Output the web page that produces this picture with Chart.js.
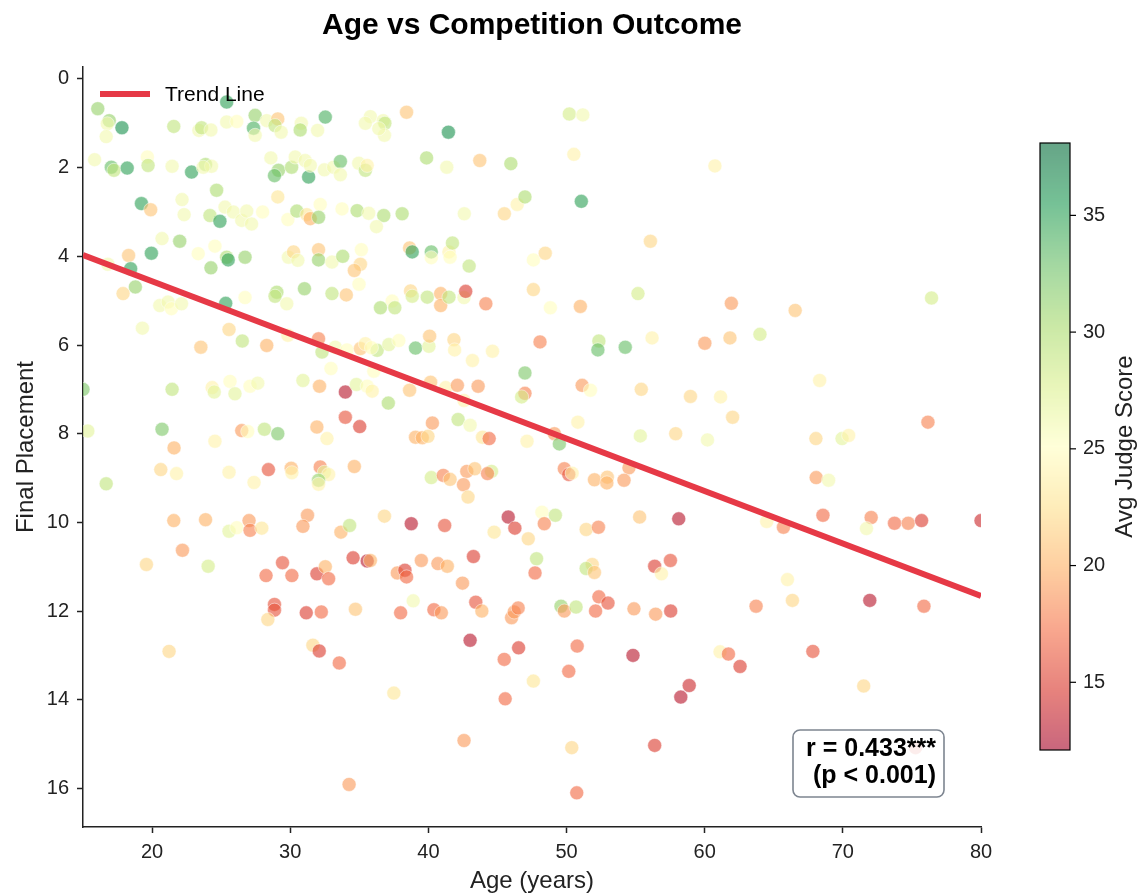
<!DOCTYPE html>
<html>
<head>
<meta charset="utf-8">
<script src="https://cdn.jsdelivr.net/npm/chart.js@4"></script>
<style>
  html, body { margin: 0; padding: 0; background: #fff; }
</style>
</head>
<body>
<canvas id="mycanvas" width="1138" height="896"></canvas>
<script>
// age of each competitor (years)
var ages = [
  16.07,25.4,16.9,16.76,17.82,16.68,21.57,23.39,23.58,24.26,25.4,26.13,27.46,27.34,27.46,28.3,29.1,28.9,29.34,30.8,
  30.72,15.84,17.05,17.24,18.2,19.66,19.71,21.45,22.86,23.87,24.3,23.7,28.6,29.15,28.86,30.1,30.36,31.08,31.33,24.67,
  22.17,22.32,19.23,19.9,24.19,24.91,25.28,25.88,26.49,26.85,27.2,28.0,29.1,29.83,30.48,31.2,20.72,22.0,19.95,18.3,
  16.8,18.45,23.34,24.55,25.4,25.51,24.26,26.73,29.87,30.24,30.55,31.03,18.79,17.9,20.56,21.16,21.4,22.13,25.33,26.73,
  29.03,28.9,29.75,
  32.54,31.98,35.8,35.44,36.73,36.85,36.82,36.41,38.42,41.45,39.87,41.33,43.72,45.97,31.45,32.47,33.14,33.63,33.63,34.96,
  35.44,35.57,32.17,31.45,32.05,33.75,34.84,35.68,36.77,36.24,38.1,42.6,45.5,46.43,46.99,32.05,32.05,33.02,33.8,35.15,
  35.08,34.64,34.98,33.02,34.06,38.64,38.83,40.21,40.21,41.49,41.57,41.74,42.95,47.6,47.6,37.38,36.53,37.57,38.71,38.83,
  39.92,40.89,40.89,41.49,42.58,42.7,44.16,
  50.2,51.18,50.53,60.74,51.07,56.07,48.46,48.83,51.0,55.17,61.93,
  66.55,76.42,
  19.3,25.57,26.53,23.53,28.3,29.83,30.92,15.0,21.45,24.35,24.5,25.64,26.0,27.09,27.65,15.35,20.72,21.59,24.55,26.49,
  26.92,28.13,29.1,20.63,21.77,25.57,27.38,28.42,30.07,30.12,16.68,21.57,23.87,25.57,26.13,27.02,27.09,27.94,31.25,30.92,
  22.2,19.59,24.06,29.44,
  32.05,32.3,33.26,34.11,35.08,35.44,36.29,35.88,37.14,37.86,39.07,40.04,40.09,41.85,41.9,43.19,44.64,32.95,32.12,33.99,
  34.79,35.57,35.93,36.05,37.1,38.64,40.16,41.25,42.1,43.6,42.58,46.99,46.99,46.75,33.99,35.03,31.93,32.66,40.29,42.15,
  43.02,39.07,39.56,39.97,43.92,44.4,47.14,34.64,32.17,32.47,32.78,32.05,32.05,40.21,41.08,41.57,42.78,43.36,42.54,42.87,
  44.57,44.28,33.67,34.3,36.82,38.76,41.18,44.76,45.78,46.26,47.23,34.55,35.57,35.8,39.49,40.69,41.37,43.26,
  48.08,52.34,52.27,54.25,56.19,60.01,61.83,64.0,51.13,51.73,55.41,58.97,61.15,62.02,50.82,49.12,49.48,55.34,57.9,60.2,
  54.52,49.84,50.16,50.4,52.02,52.95,52.92,54.16,48.22,49.19,48.39,51.42,52.31,55.29,58.12,47.83,51.86,57.52,
  68.32,76.16,68.05,69.94,70.42,68.07,68.97,64.49,65.7,68.56,72.05,71.71,73.74,74.73,75.7,80.0,
  28.25,30.12,28.86,28.86,28.38,31.16,21.23,
  31.93,32.54,32.78,37.75,38.3,38.42,42.47,32.25,34.72,37.99,38.9,40.4,40.94,43.43,43.87,46.02,46.21,46.5,31.64,32.1,
  33.55,43.02,46.53,45.49,37.5,45.56,42.58,34.26,
  47.72,51.42,52.02,56.38,56.87,52.34,53.0,52.1,49.6,49.84,50.69,54.88,56.45,57.54,63.72,50.77,50.16,47.6,54.81,61.11,
  61.72,62.56,58.88,58.27,50.38,56.38,50.74,
  65.99,66.35,71.95,75.87,67.83,71.51,75.26
];

// final placement (1 = best)
var placements = [
  0.67,0.52,0.94,1.01,1.10,1.30,1.07,1.16,1.10,1.15,0.97,0.96,0.82,1.11,1.27,0.94,0.90,1.05,1.20,1.0,
  1.15,1.82,1.99,2.06,2.01,1.76,1.95,1.97,2.10,1.93,1.97,1.99,1.78,2.06,2.18,1.99,1.76,1.84,2.21,2.51,
  2.72,3.06,2.81,2.95,3.08,3.21,2.89,3.0,3.19,2.98,3.27,3.0,2.66,3.17,2.98,3.06,3.6,3.66,3.93,3.98,
  4.18,4.28,3.94,3.77,4.02,4.08,4.26,4.02,4.02,3.9,4.09,4.73,4.69,4.84,5.11,5.03,5.18,5.07,5.06,4.93,
  4.81,4.9,5.07,
  0.86,1.16,0.85,1.0,0.94,1.0,1.27,1.12,0.75,1.2,1.78,1.99,1.84,1.91,1.95,2.05,1.99,1.86,2.16,1.9,
  2.06,1.95,2.83,3.15,3.12,2.93,2.97,3.03,3.08,3.33,3.04,3.04,3.04,2.83,2.66,3.85,4.08,4.13,4.0,3.85,
  4.18,4.32,4.63,4.84,4.87,3.81,3.9,3.9,4.03,3.9,4.02,3.7,4.22,4.08,4.75,5.01,5.16,5.16,4.78,4.9,
  4.92,4.84,5.11,4.92,4.93,4.79,5.07,
  0.79,0.81,1.70,1.96,2.76,3.66,3.93,5.16,5.13,4.84,5.06,
  5.22,4.94,
  5.62,5.65,5.91,6.05,6.01,5.78,6.8,7.0,7.0,6.96,7.06,6.82,7.1,6.93,6.86,7.94,7.90,8.32,8.17,7.93,
  7.95,7.9,8.0,8.81,8.9,8.87,9.1,8.81,8.78,8.88,9.13,9.96,9.94,10.2,10.12,9.96,10.18,10.13,9.84,10.09,
  10.63,10.95,10.99,10.91,
  5.86,6.16,6.05,6.11,6.08,5.97,6.12,6.06,5.99,5.9,6.07,6.03,5.8,5.88,6.11,6.35,6.14,6.53,6.93,7.06,
  6.89,6.93,7.04,6.59,7.31,7.02,6.84,6.96,6.91,6.93,7.25,6.63,7.09,7.17,7.63,7.84,7.85,8.11,7.76,7.68,
  7.81,8.08,8.09,8.06,8.08,8.11,8.17,8.74,8.75,8.87,8.92,9.05,9.14,8.99,8.94,9.03,8.85,8.79,9.15,9.43,
  8.85,8.9,10.22,10.07,9.86,10.03,10.07,10.22,9.88,10.13,10.37,10.8,10.87,10.86,10.86,10.93,10.99,10.77,
  5.93,5.91,6.11,6.05,5.84,5.96,5.84,5.76,6.91,7.02,7.0,7.16,7.17,7.63,7.74,8.0,8.23,8.05,8.0,8.14,
  8.77,8.79,8.92,8.89,9.04,8.98,9.11,9.05,9.77,9.84,10.03,10.16,10.11,9.88,9.92,10.82,10.95,10.86,
  6.8,7.74,8.11,8.11,8.04,8.99,9.05,9.98,10.11,9.84,9.89,10.14,10.02,10.02,9.96,9.96,
  11.2,11.2,11.85,11.98,12.19,12.04,12.91,
  11.16,11.0,11.27,11.14,11.08,11.23,11.37,12.02,11.96,12.04,11.77,11.97,12.04,11.8,12.0,12.15,12.02,11.93,12.77,12.9,
  13.17,12.66,12.83,13.09,13.85,13.98,14.92,15.91,
  11.14,11.04,11.13,10.99,11.16,11.68,11.82,12.0,11.89,12.0,11.91,11.95,12.07,12.0,11.89,12.79,13.36,13.58,13.0,12.92,
  12.97,13.25,13.68,13.94,15.08,15.03,16.1,
  11.29,11.76,11.76,11.89,12.91,13.69,15.08
];

// average judge score (colour)
var judgeScores = [
  31,35,31,26,36,26,29,26,29,26,26,25,31,34,26,26,21,29,26,26,
  30,26,33,29,35,25,29,26,35,30,26,26,26,31,33,30,26,26,35,30,
  26,26,35,21,29,35,26,26,26,26,26,25,23,25,30,23,26,31,35,21,
  26,35,25,25,30,35,31,31,26,22,26,31,31,22,26,26,25,26,35,25,
  30,29,26,
  34,26,26,26,26,29,26,26,21,36,30,26,21,30,26,26,26,33,26,26,
  29,24,25,20,31,25,30,26,30,26,30,26,22,24,30,21,31,26,30,25,
  22,21,25,29,21,21,35,33,25,24,25,29,29,25,22,25,30,29,22,28,
  29,20,20,29,26,15,18,
  28,26,24,24,35,22,22,25,20,28,19,
  21,28,
  26,22,29,21,20,24,27,32,29,24,27,25,27,25,26,27,32,20,24,19,
  25,29,32,22,24,24,24,16,20,24,29,20,20,27,25,19,18,23,19,19,
  19,22,28,16,
  18,29,26,25,21,24,29,25,27,25,33,27,21,22,24,24,24,25,20,13,
  27,25,24,25,30,21,21,24,19,19,24,32,18,28,16,15,20,24,19,29,
  26,20,20,22,23,17,24,20,18,27,24,31,24,28,18,21,19,21,19,22,
  28,18,20,29,22,13,16,23,13,15,22,15,13,20,19,19,20,15,
  18,29,33,33,24,19,21,28,19,25,22,22,24,22,24,19,32,27,22,26,
  19,18,16,24,20,21,20,19,25,29,18,22,18,21,13,29,22,16,
  24,18,22,27,24,19,26,24,18,17,18,26,17,18,15,14,
  17,17,16,16,22,15,22,
  15,20,17,19,15,17,19,17,21,17,26,17,19,16,20,19,19,18,22,15,
  17,13,15,17,23,17,19,19,
  17,29,21,15,24,17,16,17,31,19,29,19,19,15,18,17,17,23,13,24,
  17,15,14,13,22,15,17,
  24,22,13,17,16,22,15
];

var trendAges = [15, 80];
var trendPlacements = [3.97, 11.66];

var xTicks = [20, 30, 40, 50, 60, 70, 80];
var yTicks = [0, 2, 4, 6, 8, 10, 12, 14, 16];
var colorbarTicks = [15, 20, 25, 30, 35];
var scoreMin = 12.1, scoreMax = 38.1;
var statLines = ['r = 0.433***', '(p < 0.001)'];

var fontFam = '"Liberation Sans", Arial, Helvetica, sans-serif';

// RdYlGn colour map
var rdylgn = [[165,0,38],[215,48,39],[244,109,67],[253,174,97],[254,224,139],[255,255,191],
              [217,239,139],[166,217,106],[102,189,99],[26,152,80],[0,104,55]];
function scoreColor(v, a) {
  var t = (v - scoreMin) / (scoreMax - scoreMin);
  t = Math.max(0, Math.min(1, t)) * 10;
  var i = Math.min(9, Math.floor(t)), f = t - i;
  var c0 = rdylgn[i], c1 = rdylgn[i + 1];
  var r = Math.round(c0[0] + (c1[0] - c0[0]) * f);
  var g = Math.round(c0[1] + (c1[1] - c0[1]) * f);
  var b = Math.round(c0[2] + (c1[2] - c0[2]) * f);
  return 'rgba(' + r + ',' + g + ',' + b + ',' + a + ')';
}

var points = [];
var pointColors = [];
for (var i = 0; i < ages.length; i++) {
  points.push({x: ages[i], y: placements[i]});
  pointColors.push(scoreColor(judgeScores[i], 0.6));
}
var trendData = [];
for (var j = 0; j < trendAges.length; j++) {
  trendData.push({x: trendAges[j], y: trendPlacements[j]});
}

var bgPlugin = {
  id: 'bg',
  beforeDraw: function(chart) {
    var c = chart.ctx;
    c.save();
    c.fillStyle = '#fff';
    c.fillRect(0, 0, chart.width, chart.height);
    c.restore();
  }
};

var extrasPlugin = {
  id: 'extras',
  afterDraw: function(chart) {
    var c = chart.ctx;
    var area = chart.chartArea;
    c.save();

    // title
    c.fillStyle = '#000';
    c.font = 'bold 30px ' + fontFam;
    c.textAlign = 'center';
    c.textBaseline = 'middle';
    c.fillText('Age vs Competition Outcome', (area.left + area.right) / 2, 26);

    // legend in the upper left of the plot
    var trend = chart.data.datasets[0];
    c.strokeStyle = trend.borderColor;
    c.lineWidth = trend.borderWidth;
    c.beginPath();
    c.moveTo(100, 94);
    c.lineTo(150, 94);
    c.stroke();
    c.fillStyle = '#000';
    c.font = '21px ' + fontFam;
    c.textAlign = 'left';
    c.fillText(trend.label, 165, 95);

    // stats box
    var bx = 793, by = 730, bw = 151, bh = 67, rad = 7;
    c.beginPath();
    c.moveTo(bx + rad, by);
    c.arcTo(bx + bw, by, bx + bw, by + bh, rad);
    c.arcTo(bx + bw, by + bh, bx, by + bh, rad);
    c.arcTo(bx, by + bh, bx, by, rad);
    c.arcTo(bx, by, bx + bw, by, rad);
    c.closePath();
    c.fillStyle = 'rgba(255,255,255,0.85)';
    c.fill();
    c.strokeStyle = '#7d8590';
    c.lineWidth = 1.6;
    c.stroke();
    c.fillStyle = '#000';
    c.font = 'bold 25px ' + fontFam;
    c.textAlign = 'right';
    c.fillText(statLines[0], 936, 749);
    c.fillText(statLines[1], 936, 776);

    // colour bar
    var cb = {left: 1040, right: 1070, top: 143, bottom: 750};
    for (var py = cb.top; py < cb.bottom; py++) {
      var v = scoreMax - (py + 0.5 - cb.top) / (cb.bottom - cb.top) * (scoreMax - scoreMin);
      c.fillStyle = scoreColor(v, 0.6);
      c.fillRect(cb.left, py, cb.right - cb.left, 1);
    }
    c.strokeStyle = '#000';
    c.lineWidth = 1.2;
    c.strokeRect(cb.left, cb.top, cb.right - cb.left, cb.bottom - cb.top);
    c.font = '20px ' + fontFam;
    c.textAlign = 'left';
    c.textBaseline = 'middle';
    c.fillStyle = '#222';
    colorbarTicks.forEach(function(t) {
      var y = cb.bottom - (t - scoreMin) / (scoreMax - scoreMin) * (cb.bottom - cb.top);
      c.beginPath();
      c.moveTo(cb.right, y);
      c.lineTo(cb.right + 6, y);
      c.stroke();
      c.fillText(String(t), cb.right + 13, y);
    });
    c.translate(1125, (cb.top + cb.bottom) / 2);
    c.rotate(-Math.PI / 2);
    c.textAlign = 'center';
    c.font = '24px ' + fontFam;
    c.fillText('Avg Judge Score', 0, 0);
    c.restore();
  }
};

var ctx = document.getElementById('mycanvas');
var chart = new Chart(ctx, {
  type: 'scatter',
  data: {
    datasets: [
      {
        type: 'line',
        label: 'Trend Line',
        data: trendData,
        borderColor: '#e63946',
        borderWidth: 6,
        pointRadius: 0,
        fill: false,
        tension: 0,
        clip: 0,
        order: 0
      },
      {
        label: 'Competitors',
        data: points,
        pointRadius: 7,
        pointBackgroundColor: pointColors,
        pointBorderColor: 'rgba(255,255,255,0.6)',
        pointBorderWidth: 0.8,
        clip: 0,
        order: 1
      }
    ]
  },
  options: {
    responsive: false,
    animation: false,
    events: [],
    layout: { padding: { left: 0, right: 157, top: 67, bottom: 0 } },
    plugins: {
      legend: { display: false },
      title: { display: false },
      tooltip: { enabled: false }
    },
    scales: {
      x: {
        type: 'linear',
        min: 15,
        max: 80,
        afterBuildTicks: function(s) { s.ticks = xTicks.map(function(v) { return {value: v}; }); },
        afterFit: function(s) { s.height = 69; },
        ticks: { font: { size: 20, family: fontFam }, color: '#222', padding: 7 },
        grid: { drawOnChartArea: false, drawTicks: true, tickLength: 6, tickWidth: 1.5, tickColor: '#222' },
        border: { display: true, color: '#222', width: 1.5 },
        title: { display: true, text: 'Age (years)', font: { size: 24, family: fontFam }, color: '#222', padding: { top: 0, bottom: 0 } }
      },
      y: {
        type: 'linear',
        min: -0.27,
        max: 16.87,
        reverse: true,
        afterBuildTicks: function(s) { s.ticks = yTicks.map(function(v) { return {value: v}; }); },
        afterFit: function(s) { s.width = 83; },
        ticks: { font: { size: 20, family: fontFam }, color: '#222', padding: 8 },
        grid: { drawOnChartArea: false, drawTicks: true, tickLength: 6, tickWidth: 1.5, tickColor: '#222' },
        border: { display: true, color: '#222', width: 1.5 },
        title: { display: true, text: 'Final Placement', font: { size: 24, family: fontFam }, color: '#222', padding: { top: 12, bottom: 0 } }
      }
    }
  },
  plugins: [bgPlugin, extrasPlugin]
});
</script>
</body>
</html>
